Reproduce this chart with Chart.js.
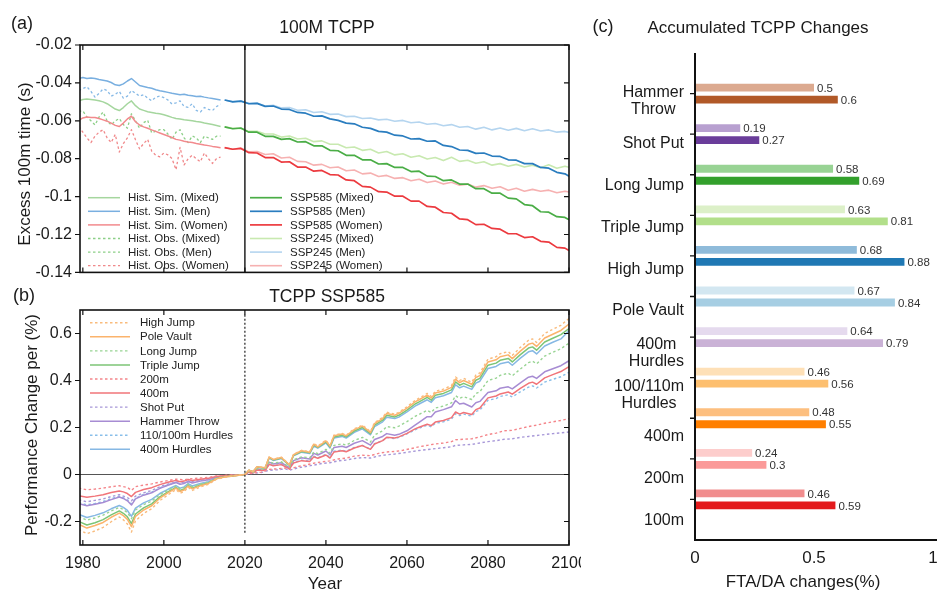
<!DOCTYPE html>
<html>
<head>
<meta charset="utf-8">
<script src="https://cdn.jsdelivr.net/npm/chart.js@4.4.0/dist/chart.umd.min.js"></script>
<style>
  html, body { margin: 0; padding: 0; background: #fff; }
  #wrap { position: relative; width: 938px; height: 590px; overflow: hidden; }
  canvas { position: absolute; }
  #ca { left: 0; top: 0; }
  #boxb { position: absolute; left: 0; top: 280px; width: 581px; height: 310px; overflow: hidden; }
  #cb { left: 0; top: 0; }
  #cc { left: 590px; top: 0; }
</style>
</head>
<body>
<div id="wrap">
  <canvas id="ca" width="590" height="290" style="width:590px;height:290px"></canvas>
  <div id="boxb"><canvas id="cb" width="590" height="310" style="width:590px;height:310px"></canvas></div>
  <canvas id="cc" width="348" height="590" style="width:348px;height:590px"></canvas>
</div>
<script>
// ---------- (a) 100M TCPP ----------
const histYears = [1979,1980,1981,1982,1983,1984,1985,1986,1987,1988,
  1989,1990,1991,1992,1993,1994,1995,1996,1997,1998,
  1999,2000,2001,2002,2003,2004,2005,2006,2007,2008,
  2009,2010,2011,2012,2013,2014];
const histSimMixed = [-0.0495,-0.0488,-0.0485,-0.0487,-0.0490,-0.0494,-0.0500,-0.0510,-0.0524,-0.0538,
  -0.0546,-0.0530,-0.0510,-0.0495,-0.0520,-0.0538,-0.0545,-0.0552,-0.0556,-0.0560,
  -0.0563,-0.0568,-0.0575,-0.0582,-0.0588,-0.0590,-0.0594,-0.0597,-0.0600,-0.0604,
  -0.0606,-0.0612,-0.0616,-0.0620,-0.0625,-0.0630];
const histSimMen = [-0.0377,-0.0372,-0.0377,-0.0374,-0.0377,-0.0382,-0.0386,-0.0390,-0.0398,-0.0410,
  -0.0414,-0.0405,-0.0390,-0.0377,-0.0395,-0.0414,-0.0419,-0.0424,-0.0428,-0.0436,
  -0.0441,-0.0445,-0.0450,-0.0455,-0.0458,-0.0462,-0.0460,-0.0465,-0.0468,-0.0472,
  -0.0470,-0.0475,-0.0479,-0.0482,-0.0486,-0.0490];
const histSimWomen = [-0.0597,-0.0585,-0.0580,-0.0582,-0.0583,-0.0588,-0.0595,-0.0602,-0.0612,-0.0624,
  -0.0630,-0.0612,-0.0590,-0.0576,-0.0605,-0.0622,-0.0632,-0.0639,-0.0648,-0.0656,
  -0.0664,-0.0672,-0.0680,-0.0688,-0.0698,-0.0702,-0.0708,-0.0712,-0.0715,-0.0720,
  -0.0724,-0.0728,-0.0731,-0.0735,-0.0738,-0.0742];
const histObsMixed = [-0.0550,-0.0548,-0.0580,-0.0600,-0.0622,-0.0580,-0.0554,-0.0600,-0.0622,-0.0600,
  -0.0588,-0.0620,-0.0639,-0.0563,-0.0600,-0.0639,-0.0610,-0.0597,-0.0664,-0.0655,
  -0.0647,-0.0647,-0.0670,-0.0698,-0.0660,-0.0647,-0.0690,-0.0715,-0.0680,-0.0690,
  -0.0715,-0.0681,-0.0690,-0.0698,-0.0681,-0.0681];
const histObsMen = [-0.0440,-0.0430,-0.0420,-0.0445,-0.0475,-0.0455,-0.0432,-0.0440,-0.0470,-0.0460,
  -0.0445,-0.0480,-0.0470,-0.0440,-0.0455,-0.0470,-0.0462,-0.0480,-0.0495,-0.0475,
  -0.0470,-0.0478,-0.0490,-0.0512,-0.0505,-0.0495,-0.0525,-0.0529,-0.0510,-0.0545,
  -0.0554,-0.0530,-0.0540,-0.0546,-0.0525,-0.0512];
const histObsWomen = [-0.0630,-0.0660,-0.0690,-0.0715,-0.0681,-0.0660,-0.0647,-0.0690,-0.0715,-0.0672,
  -0.0765,-0.0720,-0.0690,-0.0647,-0.0700,-0.0748,-0.0720,-0.0698,-0.0760,-0.0782,
  -0.0790,-0.0770,-0.0780,-0.0799,-0.0858,-0.0740,-0.0833,-0.0800,-0.0782,-0.0800,
  -0.0816,-0.0770,-0.0800,-0.0825,-0.0800,-0.0791];

const sspYears = [2015,2017,2019,2021,2023,2025,2027,2029,2031,2033,
  2035,2037,2039,2041,2043,2045,2047,2049,2051,2053,
  2055,2057,2059,2061,2063,2065,2067,2069,2071,2073,
  2075,2077,2079,2081,2083,2085,2087,2089,2091,2093,
  2095,2097,2099,2100];
const ssp585Mixed = [-0.0632,-0.0642,-0.0638,-0.0660,-0.0660,-0.0682,-0.0682,-0.0698,-0.0694,-0.0712,
  -0.0710,-0.0732,-0.0732,-0.0756,-0.0758,-0.0782,-0.0782,-0.0806,-0.0806,-0.0828,
  -0.0826,-0.0846,-0.0846,-0.0868,-0.0866,-0.0892,-0.0894,-0.0916,-0.0912,-0.0934,
  -0.0934,-0.0958,-0.0958,-0.0982,-0.0982,-0.1008,-0.1012,-0.1042,-0.1048,-0.1080,
  -0.1082,-0.1106,-0.1110,-0.1122];
const ssp585Men = [-0.0490,-0.0500,-0.0496,-0.0510,-0.0508,-0.0524,-0.0522,-0.0538,-0.0540,-0.0556,
  -0.0560,-0.0576,-0.0574,-0.0590,-0.0598,-0.0612,-0.0616,-0.0634,-0.0640,-0.0656,
  -0.0660,-0.0676,-0.0680,-0.0696,-0.0694,-0.0708,-0.0706,-0.0730,-0.0736,-0.0754,
  -0.0756,-0.0772,-0.0770,-0.0786,-0.0788,-0.0806,-0.0808,-0.0826,-0.0826,-0.0846,
  -0.0850,-0.0872,-0.0880,-0.0892];
const ssp585Women = [-0.0742,-0.0750,-0.0746,-0.0768,-0.0770,-0.0794,-0.0794,-0.0818,-0.0816,-0.0844,
  -0.0844,-0.0866,-0.0862,-0.0884,-0.0886,-0.0912,-0.0916,-0.0946,-0.0950,-0.0974,
  -0.0976,-0.0998,-0.0998,-0.1024,-0.1024,-0.1052,-0.1056,-0.1084,-0.1088,-0.1118,
  -0.1122,-0.1148,-0.1146,-0.1168,-0.1172,-0.1196,-0.1196,-0.1216,-0.1212,-0.1236,
  -0.1240,-0.1268,-0.1272,-0.1285];
const ssp245Mixed = [-0.0632,-0.0640,-0.0640,-0.0656,-0.0655,-0.0670,-0.0670,-0.0686,-0.0680,-0.0696,
  -0.0692,-0.0710,-0.0706,-0.0724,-0.0724,-0.0742,-0.0738,-0.0756,-0.0750,-0.0770,
  -0.0762,-0.0780,-0.0774,-0.0792,-0.0784,-0.0802,-0.0794,-0.0810,-0.0792,-0.0814,
  -0.0808,-0.0824,-0.0816,-0.0834,-0.0826,-0.0840,-0.0830,-0.0844,-0.0834,-0.0848,
  -0.0832,-0.0850,-0.0840,-0.0845];
const ssp245Men = [-0.0490,-0.0498,-0.0496,-0.0508,-0.0506,-0.0522,-0.0518,-0.0532,-0.0530,-0.0544,
  -0.0542,-0.0556,-0.0552,-0.0566,-0.0564,-0.0578,-0.0576,-0.0588,-0.0585,-0.0595,
  -0.0592,-0.0602,-0.0598,-0.0610,-0.0606,-0.0618,-0.0614,-0.0626,-0.0620,-0.0634,
  -0.0630,-0.0644,-0.0634,-0.0648,-0.0638,-0.0650,-0.0640,-0.0652,-0.0642,-0.0654,
  -0.0648,-0.0660,-0.0656,-0.0661];
const ssp245Women = [-0.0742,-0.0750,-0.0744,-0.0764,-0.0762,-0.0778,-0.0774,-0.0796,-0.0792,-0.0814,
  -0.0816,-0.0834,-0.0830,-0.0848,-0.0844,-0.0864,-0.0860,-0.0880,-0.0876,-0.0894,
  -0.0888,-0.0904,-0.0900,-0.0916,-0.0908,-0.0926,-0.0918,-0.0934,-0.0924,-0.0940,
  -0.0934,-0.0950,-0.0942,-0.0956,-0.0948,-0.0966,-0.0956,-0.0972,-0.0962,-0.0972,
  -0.0966,-0.0980,-0.0972,-0.0976];

const yTicksA = [-0.14, -0.12, -0.1, -0.08, -0.06, -0.04, -0.02];
const yearTicks = [1980, 2000, 2020, 2040, 2060, 2080, 2100];
const splitYear = 2020;

// ---------- (b) TCPP SSP585 ----------
const bYears = [1979,1981,1983,1985,1987,1989,1990,1991,1992,1993,
  1995,1997,1999,2001,2003,2004,2005,2006,2007,2009,
  2011,2013,2015,2017,2020,2021,2022,2023,2025,2026,
  2027,2029,2031,2032,2034,2036,2037,2038,2040,2041,
  2042,2044,2045,2047,2049,2051,2052,2054,2055,2057,
  2058,2060,2062,2063,2065,2066,2067,2069,2071,2072,
  2073,2074,2076,2077,2078,2080,2082,2083,2085,2086,
  2088,2090,2091,2092,2094,2096,2098,2100];
const highJump = [-0.234,-0.252,-0.240,-0.225,-0.201,-0.181,-0.193,-0.211,-0.245,-0.197,
  -0.166,-0.146,-0.111,-0.087,-0.064,-0.080,-0.073,-0.054,-0.068,-0.053,
  -0.042,-0.020,-0.012,-0.007,0.000,0.019,0.013,0.034,0.029,0.076,
  0.065,0.074,0.042,0.086,0.103,0.097,0.131,0.121,0.146,0.123,
  0.168,0.175,0.168,0.194,0.210,0.183,0.221,0.243,0.265,0.257,
  0.265,0.288,0.315,0.325,0.345,0.332,0.354,0.363,0.379,0.415,
  0.400,0.409,0.393,0.423,0.432,0.491,0.501,0.514,0.523,0.507,
  0.541,0.571,0.577,0.562,0.600,0.618,0.635,0.664];
const poleVault = [-0.212,-0.228,-0.217,-0.204,-0.182,-0.164,-0.175,-0.191,-0.222,-0.178,
  -0.151,-0.133,-0.101,-0.078,-0.058,-0.072,-0.066,-0.049,-0.061,-0.048,
  -0.038,-0.018,-0.011,-0.006,0.000,0.018,0.012,0.033,0.029,0.074,
  0.064,0.072,0.041,0.084,0.101,0.095,0.129,0.118,0.143,0.121,
  0.165,0.172,0.165,0.191,0.206,0.179,0.216,0.238,0.260,0.252,
  0.260,0.282,0.309,0.318,0.338,0.325,0.347,0.355,0.371,0.406,
  0.391,0.400,0.384,0.413,0.421,0.479,0.488,0.501,0.509,0.493,
  0.525,0.554,0.559,0.545,0.581,0.597,0.613,0.640];
const longJump = [-0.180,-0.194,-0.185,-0.173,-0.155,-0.140,-0.149,-0.162,-0.188,-0.151,
  -0.128,-0.113,-0.086,-0.067,-0.050,-0.061,-0.056,-0.041,-0.052,-0.041,
  -0.032,-0.015,-0.009,-0.005,0.000,0.014,0.009,0.025,0.022,0.055,
  0.048,0.054,0.031,0.063,0.075,0.071,0.096,0.089,0.107,0.090,
  0.124,0.130,0.125,0.145,0.158,0.138,0.168,0.186,0.204,0.199,
  0.206,0.225,0.247,0.256,0.273,0.264,0.283,0.291,0.305,0.335,
  0.324,0.331,0.319,0.344,0.352,0.400,0.410,0.422,0.431,0.420,
  0.449,0.476,0.482,0.471,0.504,0.520,0.535,0.559];
const tripleJump = [-0.200,-0.215,-0.205,-0.192,-0.172,-0.155,-0.165,-0.180,-0.209,-0.168,
  -0.142,-0.125,-0.095,-0.074,-0.055,-0.068,-0.062,-0.046,-0.058,-0.045,
  -0.036,-0.017,-0.010,-0.006,0.000,0.018,0.012,0.032,0.028,0.072,
  0.062,0.070,0.040,0.082,0.098,0.092,0.125,0.115,0.139,0.117,
  0.160,0.167,0.160,0.185,0.200,0.174,0.210,0.231,0.252,0.245,
  0.252,0.274,0.300,0.309,0.328,0.316,0.337,0.345,0.360,0.394,
  0.380,0.388,0.373,0.401,0.409,0.465,0.474,0.486,0.494,0.479,
  0.510,0.538,0.543,0.529,0.564,0.580,0.595,0.621];
const run400m = [-0.090,-0.097,-0.092,-0.086,-0.077,-0.070,-0.074,-0.081,-0.094,-0.076,
  -0.064,-0.056,-0.043,-0.033,-0.025,-0.031,-0.028,-0.021,-0.026,-0.020,
  -0.016,-0.008,-0.005,-0.003,0.000,0.011,0.007,0.019,0.017,0.043,
  0.037,0.042,0.024,0.049,0.059,0.055,0.075,0.069,0.083,0.070,
  0.096,0.101,0.097,0.113,0.123,0.107,0.130,0.144,0.158,0.155,
  0.160,0.175,0.194,0.201,0.214,0.208,0.223,0.230,0.242,0.266,
  0.257,0.264,0.255,0.276,0.283,0.326,0.334,0.343,0.351,0.342,
  0.366,0.388,0.393,0.384,0.411,0.425,0.438,0.459];
const hammerThrow = [-0.124,-0.133,-0.127,-0.119,-0.107,-0.096,-0.102,-0.112,-0.130,-0.104,
  -0.088,-0.078,-0.059,-0.046,-0.034,-0.042,-0.038,-0.029,-0.036,-0.028,
  -0.022,-0.011,-0.006,-0.004,0.000,0.013,0.009,0.023,0.020,0.052,
  0.045,0.050,0.029,0.059,0.071,0.066,0.090,0.083,0.100,0.084,
  0.115,0.120,0.115,0.133,0.144,0.125,0.149,0.162,0.174,0.167,
  0.171,0.186,0.210,0.222,0.246,0.246,0.266,0.276,0.288,0.315,
  0.300,0.303,0.287,0.305,0.311,0.349,0.356,0.367,0.373,0.364,
  0.390,0.414,0.418,0.409,0.437,0.450,0.463,0.484];
const hurdles110 = [-0.120,-0.129,-0.123,-0.115,-0.103,-0.093,-0.099,-0.108,-0.125,-0.101,
  -0.085,-0.075,-0.057,-0.044,-0.033,-0.041,-0.037,-0.028,-0.035,-0.027,
  -0.022,-0.010,-0.006,-0.004,0.000,0.011,0.007,0.020,0.017,0.045,
  0.038,0.043,0.025,0.051,0.061,0.057,0.078,0.071,0.086,0.073,
  0.099,0.104,0.099,0.115,0.124,0.108,0.131,0.144,0.157,0.153,
  0.158,0.173,0.190,0.197,0.210,0.203,0.218,0.224,0.236,0.259,
  0.251,0.257,0.248,0.268,0.274,0.316,0.323,0.332,0.339,0.330,
  0.352,0.372,0.377,0.368,0.393,0.405,0.416,0.435];
const hurdles400 = [-0.170,-0.183,-0.174,-0.163,-0.146,-0.132,-0.140,-0.153,-0.178,-0.143,
  -0.121,-0.106,-0.081,-0.063,-0.047,-0.058,-0.053,-0.039,-0.049,-0.038,
  -0.031,-0.014,-0.009,-0.005,0.000,0.017,0.012,0.031,0.027,0.070,
  0.060,0.068,0.039,0.080,0.095,0.089,0.121,0.112,0.135,0.113,
  0.155,0.162,0.155,0.179,0.194,0.169,0.204,0.224,0.244,0.238,
  0.244,0.266,0.291,0.300,0.318,0.307,0.327,0.335,0.349,0.382,
  0.369,0.376,0.362,0.389,0.397,0.451,0.460,0.471,0.479,0.465,
  0.495,0.522,0.527,0.513,0.547,0.563,0.577,0.612];

const sprintYears = [1979,1981,1983,1985,1987,1989,1991,1992,1993,1995,
  1997,1999,2001,2003,2005,2007,2009,2011,2013,2015,
  2017,2020,2022,2024,2026,2028,2030,2031,2033,2035,
  2037,2039,2041,2043,2045,2047,2049,2051,2053,2055,
  2057,2059,2061,2063,2065,2067,2069,2071,2072,2074,
  2076,2078,2080,2082,2084,2086,2088,2090,2092,2094,
  2096,2098,2100];
const run200m = [-0.058,-0.065,-0.062,-0.058,-0.052,-0.048,-0.055,-0.068,-0.052,-0.045,
  -0.040,-0.032,-0.026,-0.020,-0.022,-0.018,-0.015,-0.012,-0.006,-0.004,
  -0.002,0.000,0.006,0.010,0.022,0.024,0.028,0.022,0.034,0.040,
  0.048,0.054,0.058,0.066,0.070,0.078,0.082,0.080,0.090,0.096,
  0.098,0.103,0.110,0.118,0.124,0.130,0.134,0.140,0.148,0.150,
  0.152,0.160,0.170,0.176,0.186,0.188,0.196,0.204,0.210,0.218,
  0.224,0.230,0.238];
const shotPut = [-0.108,-0.116,-0.110,-0.104,-0.094,-0.086,-0.098,-0.112,-0.092,-0.078,
  -0.068,-0.052,-0.041,-0.031,-0.034,-0.030,-0.025,-0.020,-0.010,-0.006,
  -0.003,0.000,0.005,0.008,0.018,0.020,0.024,0.018,0.028,0.034,
  0.040,0.047,0.050,0.058,0.062,0.068,0.072,0.070,0.079,0.084,
  0.087,0.092,0.097,0.102,0.106,0.110,0.114,0.118,0.124,0.126,
  0.128,0.134,0.140,0.144,0.150,0.152,0.158,0.162,0.166,0.170,
  0.174,0.177,0.181];

const yTicksB = [-0.2, 0, 0.2, 0.4, 0.6];

// ---------- (c) Accumulated TCPP Changes ----------
const events = [['Hammer', 'Throw'], 'Shot Put', 'Long Jump', 'Triple Jump', 'High Jump', 'Pole Vault',
  ['400m', 'Hurdles'], ['100/110m', 'Hurdles'], '400m', '200m', '100m'];
const ftaLight = [0.5, 0.19, 0.58, 0.63, 0.68, 0.67, 0.64, 0.46, 0.48, 0.24, 0.46];
const ftaDark = [0.6, 0.27, 0.69, 0.81, 0.88, 0.84, 0.79, 0.56, 0.55, 0.3, 0.59];
const xTicksC = [0, 0.5, 1];

const lightColors = ['#dcaa90', '#b8a0d0', '#98d394', '#dcf0c8', '#8fbbda', '#d3e7f1',
  '#e5daee', '#fee0b7', '#fdbf7f', '#fdcdcc', '#f18d8e'];
const darkColors = ['#b15928', '#6a3d9a', '#33a02c', '#b2df8a', '#1f78b4', '#a6cee3',
  '#cab2d6', '#fdbf6f', '#ff7f00', '#fb9a99', '#e31a1c'];

// ---------- helpers ----------
const FONT = '"Liberation Sans", Arial, Helvetica, sans-serif';
Chart.defaults.font.family = FONT;
Chart.defaults.color = '#1a1a1a';

const fmt = v => String(Math.round(v * 100) / 100);
const pts = (xs, ys) => xs.map((x, i) => ({ x: x, y: ys[i] }));

function line(label, xs, ys, color, width, dash) {
  return {
    label: label, data: pts(xs, ys), borderColor: color, borderWidth: width,
    borderDash: dash || [], pointRadius: 0, fill: false, tension: 0,
    borderJoinStyle: 'round'
  };
}

// keep the plot box where it is even when an end tick label overhangs
function fixX(h) {
  return s => { s.height = h; s.paddingLeft = 0; s.paddingRight = 0; };
}

function framePlugin(xTicks, yTicks) {
  return {
    id: 'frame',
    afterDraw(chart) {
      const { ctx, chartArea: a, scales } = chart;
      ctx.save();
      ctx.strokeStyle = '#111';
      ctx.lineWidth = 1.6;
      ctx.strokeRect(a.left, a.top, a.right - a.left, a.bottom - a.top);
      ctx.lineWidth = 1.2;
      ctx.beginPath();
      yTicks.forEach(v => {
        const y = scales.y.getPixelForValue(v);
        ctx.moveTo(a.left - 5, y); ctx.lineTo(a.left, y);
        ctx.moveTo(a.right, y); ctx.lineTo(a.right - 5, y);
      });
      xTicks.forEach(v => {
        const x = scales.x.getPixelForValue(v);
        ctx.moveTo(x, a.top); ctx.lineTo(x, a.top + 5);
        ctx.moveTo(x, a.bottom); ctx.lineTo(x, a.bottom - 5);
      });
      ctx.stroke();
      ctx.restore();
    }
  };
}

function textPlugin(items) {
  return {
    id: 'texts',
    afterDraw(chart) {
      const ctx = chart.ctx;
      ctx.save();
      ctx.fillStyle = '#1a1a1a';
      ctx.textBaseline = 'middle';
      items.forEach(t => {
        ctx.font = t.size + 'px ' + FONT;
        ctx.textAlign = t.align || 'center';
        ctx.save();
        ctx.translate(t.x, t.y);
        if (t.rot) ctx.rotate(-Math.PI / 2);
        ctx.fillText(t.text, 0, 0);
        ctx.restore();
      });
      ctx.restore();
    }
  };
}

// legend keys drawn inside the plot: rows of [label, colour, width, dash]
function keyPlugin(columns) {
  return {
    id: 'keys',
    afterDraw(chart) {
      const ctx = chart.ctx;
      ctx.save();
      ctx.font = '11.5px ' + FONT;
      ctx.textBaseline = 'middle';
      ctx.textAlign = 'left';
      columns.forEach(col => {
        col.rows.forEach((r, i) => {
          const y = col.top + i * col.step;
          ctx.strokeStyle = r[1];
          ctx.lineWidth = r[2];
          ctx.setLineDash(r[3] || []);
          ctx.beginPath();
          ctx.moveTo(col.x0, y); ctx.lineTo(col.x1, y);
          ctx.stroke();
          ctx.setLineDash([]);
          ctx.fillStyle = '#222';
          ctx.fillText(r[0], col.tx, y + 0.5);
        });
      });
      ctx.restore();
    }
  };
}

const DOT = [2.5, 2.5];

// ---------- chart (a) ----------
const C = {
  simMixed: '#a5d69e', simMen: '#79afe0', simWomen: '#f28a8d',
  obsMixed: '#8ccf87', obsMen: '#86b9e6', obsWomen: '#f0888a',
  s585Mixed: '#4aad46', s585Men: '#2a7dbf', s585Women: '#ec3a3f',
  s245Mixed: '#c8e9b0', s245Men: '#b5d5ef', s245Women: '#f6b1b1'
};

new Chart(document.getElementById('ca'), {
  type: 'line',
  data: {
    datasets: [
      line('SSP585 (Mixed)', sspYears, ssp585Mixed, C.s585Mixed, 1.7),
      line('SSP585 (Men)', sspYears, ssp585Men, C.s585Men, 1.7),
      line('SSP585 (Women)', sspYears, ssp585Women, C.s585Women, 1.7),
      line('SSP245 (Mixed)', sspYears, ssp245Mixed, C.s245Mixed, 1.6),
      line('SSP245 (Men)', sspYears, ssp245Men, C.s245Men, 1.6),
      line('SSP245 (Women)', sspYears, ssp245Women, C.s245Women, 1.6),
      line('Hist. Sim. (Mixed)', histYears, histSimMixed, C.simMixed, 1.5),
      line('Hist. Sim. (Men)', histYears, histSimMen, C.simMen, 1.5),
      line('Hist. Sim. (Women)', histYears, histSimWomen, C.simWomen, 1.5),
      line('Hist. Obs. (Mixed)', histYears, histObsMixed, C.obsMixed, 1.3, DOT),
      line('Hist. Obs. (Men)', histYears, histObsMen, C.obsMen, 1.3, DOT),
      line('Hist. Obs. (Women)', histYears, histObsWomen, C.obsWomen, 1.3, DOT)
    ]
  },
  options: {
    responsive: false, animation: false, devicePixelRatio: 1,
    layout: { padding: { top: 45, right: 21, left: 0, bottom: 0 } },
    plugins: { legend: { display: false }, tooltip: { enabled: false } },
    scales: {
      x: {
        type: 'linear', min: 1979.3, max: 2100,
        ticks: { display: false }, grid: { display: false, drawTicks: false }, border: { display: false },
        afterFit: fixX(8)
      },
      y: {
        type: 'linear', min: -0.14, max: -0.02,
        afterBuildTicks: s => { s.ticks = yTicksA.map(v => ({ value: v })); },
        ticks: { padding: 8, font: { size: 16 }, color: '#1a1a1a', callback: v => fmt(v) },
        grid: { display: false, drawTicks: false }, border: { display: false },
        afterFit: s => { s.width = 80; }
      }
    }
  },
  plugins: [
    {
      id: 'split',
      afterDatasetsDraw(chart) {
        const { ctx, chartArea: a, scales } = chart;
        const x = scales.x.getPixelForValue(splitYear);
        ctx.save();
        ctx.strokeStyle = '#222'; ctx.lineWidth = 1.5;
        ctx.beginPath(); ctx.moveTo(x, a.top); ctx.lineTo(x, a.bottom); ctx.stroke();
        ctx.restore();
      }
    },
    framePlugin(yearTicks, yTicksA),
    keyPlugin([
      { x0: 88, x1: 120, tx: 128, top: 197.7, step: 13.6, rows: [
        ['Hist. Sim. (Mixed)', C.simMixed, 1.5],
        ['Hist. Sim. (Men)', C.simMen, 1.5],
        ['Hist. Sim. (Women)', C.simWomen, 1.5],
        ['Hist. Obs. (Mixed)', C.obsMixed, 1.3, DOT],
        ['Hist. Obs. (Men)', C.obsMixed, 1.3, DOT],
        ['Hist. Obs. (Women)', C.obsWomen, 1.3, DOT]
      ] },
      { x0: 250, x1: 282, tx: 290, top: 197.7, step: 13.6, rows: [
        ['SSP585 (Mixed)', C.s585Mixed, 1.7],
        ['SSP585 (Men)', C.s585Men, 1.7],
        ['SSP585 (Women)', C.s585Women, 1.7],
        ['SSP245 (Mixed)', C.s245Mixed, 1.6],
        ['SSP245 (Men)', C.s245Men, 1.6],
        ['SSP245 (Women)', C.s245Women, 1.6]
      ] }
    ]),
    textPlugin([
      { text: '(a)', x: 22, y: 24, size: 18 },
      { text: '100M TCPP', x: 327, y: 28, size: 17.5 },
      { text: 'Excess 100m time (s)', x: 25, y: 164, size: 17, rot: true }
    ])
  ]
});

// ---------- chart (b) ----------
const B = {
  hj: '#f9bb7c', pv: '#fbb36c', lj: '#98d493', tj: '#7cc576', r200: '#f4858a',
  r400: '#f17479', sp: '#a797d8', ht: '#a78cd3', h110: '#88bee9', h400: '#86b8e4'
};

new Chart(document.getElementById('cb'), {
  type: 'line',
  data: {
    datasets: [
      line('High Jump', bYears, highJump, B.hj, 1.4, DOT),
      line('Pole Vault', bYears, poleVault, B.pv, 1.5),
      line('Long Jump', bYears, longJump, B.lj, 1.4, DOT),
      line('Triple Jump', bYears, tripleJump, B.tj, 1.5),
      line('200m', sprintYears, run200m, B.r200, 1.4, DOT),
      line('400m', bYears, run400m, B.r400, 1.5),
      line('Shot Put', sprintYears, shotPut, B.sp, 1.4, DOT),
      line('Hammer Throw', bYears, hammerThrow, B.ht, 1.5),
      line('110/100m Hurdles', bYears, hurdles110, B.h110, 1.4, DOT),
      line('400m Hurdles', bYears, hurdles400, B.h400, 1.5)
    ]
  },
  options: {
    responsive: false, animation: false, devicePixelRatio: 1,
    layout: { padding: { top: 30, right: 21, left: 0, bottom: 0 } },
    plugins: { legend: { display: false }, tooltip: { enabled: false } },
    scales: {
      x: {
        type: 'linear', min: 1979.3, max: 2100,
        afterBuildTicks: s => { s.ticks = yearTicks.map(v => ({ value: v })); },
        ticks: { padding: 9, font: { size: 16 }, color: '#1a1a1a', maxRotation: 0, autoSkip: false, callback: v => String(v) },
        grid: { display: false, drawTicks: false }, border: { display: false },
        afterFit: fixX(45)
      },
      y: {
        type: 'linear', min: -0.3, max: 0.7,
        afterBuildTicks: s => { s.ticks = yTicksB.map(v => ({ value: v })); },
        ticks: { padding: 8, font: { size: 16 }, color: '#1a1a1a', callback: v => fmt(v) },
        grid: { display: false, drawTicks: false }, border: { display: false },
        afterFit: s => { s.width = 80; }
      }
    }
  },
  plugins: [
    {
      id: 'refs',
      beforeDatasetsDraw(chart) {
        const { ctx, chartArea: a, scales } = chart;
        const y0 = scales.y.getPixelForValue(0);
        ctx.save();
        ctx.strokeStyle = '#555'; ctx.lineWidth = 1;
        ctx.beginPath(); ctx.moveTo(a.left, y0); ctx.lineTo(a.right, y0); ctx.stroke();
        ctx.restore();
      },
      afterDatasetsDraw(chart) {
        const { ctx, scales } = chart;
        const x = scales.x.getPixelForValue(splitYear);
        ctx.save();
        ctx.strokeStyle = '#222'; ctx.lineWidth = 1.2; ctx.setLineDash([2, 2]);
        ctx.beginPath();
        ctx.moveTo(x, scales.y.getPixelForValue(0.68));
        ctx.lineTo(x, scales.y.getPixelForValue(-0.25));
        ctx.stroke();
        ctx.restore();
      }
    },
    framePlugin(yearTicks, yTicksB),
    keyPlugin([
      { x0: 90, x1: 130, tx: 140, top: 42.7, step: 14.07, rows: [
        ['High Jump', B.hj, 1.4, DOT],
        ['Pole Vault', B.pv, 1.6],
        ['Long Jump', B.lj, 1.4, DOT],
        ['Triple Jump', B.tj, 1.5],
        ['200m', B.r200, 1.4, DOT],
        ['400m', B.r400, 1.5],
        ['Shot Put', B.sp, 1.4, DOT],
        ['Hammer Throw', B.ht, 1.5],
        ['110/100m Hurdles', B.h110, 1.4, DOT],
        ['400m Hurdles', B.h400, 1.5]
      ] }
    ]),
    textPlugin([
      { text: '(b)', x: 24, y: 16, size: 18 },
      { text: 'TCPP SSP585', x: 327, y: 17, size: 17.5 },
      { text: 'Performance Change per (%)', x: 32, y: 145, size: 17, rot: true },
      { text: 'Year', x: 325, y: 304, size: 17 }
    ])
  ]
});

// ---------- chart (c) ----------
const padCat = ['', ...events.map(e => Array.isArray(e) ? e.join(' ') : e), ''];
const pad = arr => [null, ...arr, null];
const padColor = arr => ['rgba(0,0,0,0)', ...arr, 'rgba(0,0,0,0)'];

new Chart(document.getElementById('cc'), {
  type: 'bar',
  data: {
    labels: padCat,
    datasets: [
      { label: 'FTA', data: pad(ftaLight), backgroundColor: padColor(lightColors), borderWidth: 0,
        categoryPercentage: 0.59, barPercentage: 0.65 },
      { label: 'DA', data: pad(ftaDark), backgroundColor: padColor(darkColors), borderWidth: 0,
        categoryPercentage: 0.59, barPercentage: 0.65 }
    ]
  },
  options: {
    indexAxis: 'y',
    responsive: false, animation: false, devicePixelRatio: 1,
    layout: { padding: { top: 53, right: 5, left: 0, bottom: 0 } },
    plugins: { legend: { display: false }, tooltip: { enabled: false } },
    scales: {
      x: {
        type: 'linear', min: 0, max: 1,
        afterBuildTicks: s => { s.ticks = xTicksC.map(v => ({ value: v })); },
        ticks: { padding: 8, font: { size: 17 }, color: '#1a1a1a', callback: v => fmt(v) },
        grid: { display: false, drawTicks: false }, border: { display: false },
        afterFit: fixX(50)
      },
      y: {
        type: 'category', offset: false,
        ticks: { display: false },
        grid: { display: false, drawTicks: false, offset: false }, border: { display: false },
        afterFit: s => { s.width = 105; }
      }
    }
  },
  plugins: [
    {
      id: 'axesC',
      afterDraw(chart) {
        const { ctx, chartArea: a, scales: { y } } = chart;
        ctx.save();
        ctx.strokeStyle = '#111'; ctx.lineWidth = 2;
        ctx.beginPath();
        ctx.moveTo(a.left, a.top); ctx.lineTo(a.left, a.bottom); ctx.lineTo(a.right + 4, a.bottom);
        ctx.stroke();
        ctx.lineWidth = 1.4;
        ctx.beginPath();
        events.forEach((e, i) => {
          const py = y.getPixelForValue(i + 1);
          ctx.moveTo(a.left - 5, py); ctx.lineTo(a.left, py);
        });
        ctx.stroke();
        // category labels: block right-aligned, lines centred in the block
        ctx.font = '16px ' + FONT;
        ctx.fillStyle = '#1a1a1a';
        ctx.textAlign = 'center';
        ctx.textBaseline = 'middle';
        events.forEach((e, i) => {
          const lines = Array.isArray(e) ? e : [e];
          const w = Math.max(...lines.map(l => ctx.measureText(l).width));
          const cx = a.left - 11 - w / 2;
          const cy = y.getPixelForValue(i + 1) + 8 + 1.3 * i;
          lines.forEach((l, k) => ctx.fillText(l, cx, cy + (k - (lines.length - 1) / 2) * 17));
        });
        ctx.restore();
      },
      afterDatasetsDraw(chart) {
        const ctx = chart.ctx;
        ctx.save();
        ctx.font = '11.5px ' + FONT;
        ctx.fillStyle = '#333';
        ctx.textAlign = 'left';
        ctx.textBaseline = 'middle';
        chart.data.datasets.forEach((ds, di) => {
          chart.getDatasetMeta(di).data.forEach((el, i) => {
            const v = ds.data[i];
            if (v == null) return;
            ctx.fillText(String(v), el.x + 3, el.y + 1);
          });
        });
        ctx.restore();
      }
    },
    textPlugin([
      { text: '(c)', x: 13, y: 27, size: 18 },
      { text: 'Accumulated TCPP Changes', x: 168, y: 28, size: 17 },
      { text: 'FTA/DA changes(%)', x: 213, y: 582, size: 17 }
    ])
  ]
});
</script>
</body>
</html>
